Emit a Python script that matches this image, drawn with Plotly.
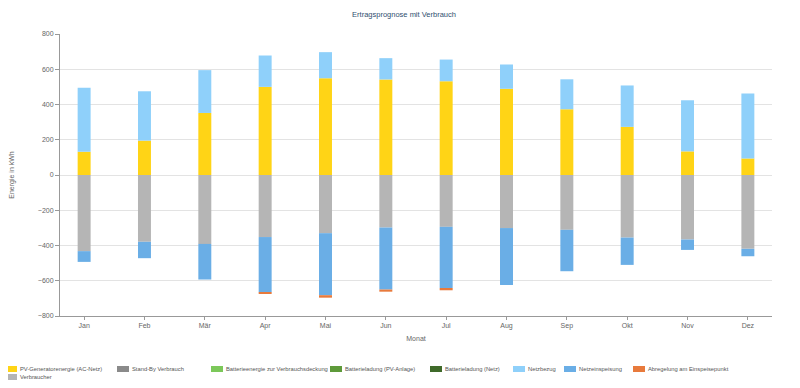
import plotly.graph_objects as go

months = ["Jan", "Feb", "Mär", "Apr", "Mai", "Jun", "Jul", "Aug", "Sep", "Okt", "Nov", "Dez"]

pv_generator = [132, 195, 352, 500, 549, 542, 532, 489, 373, 273, 134, 94]
netzbezug = [363, 280, 243, 178, 148, 121, 123, 138, 170, 235, 290, 368]
verbraucher = [-432, -379, -391, -352, -330, -298, -294, -301, -311, -355, -366, -419]
netzeinspeisung = [-61, -93, -202, -313, -352, -352, -347, -323, -235, -155, -59, -42]
abregelung = [0, 0, 0, -8, -14, -12, -13, 0, 0, 0, 0, 0]
standby = [0] * 12
batt_verbrauch = [0] * 12
batt_pv = [0] * 12
batt_netz = [0] * 12

y_ticks = [-800, -600, -400, -200, 0, 200, 400, 600, 800]

# The page body has an 8 px margin, so the figure is 8 px smaller than the window.
OFF = 8
W, H = 800 - OFF, 388 - OFF
L, R, T, B = 52, 28, 26, 72
PW, PH = W - L - R, H - T - B


def px_x(page_x):
    return (page_x - OFF - L) / PW


def px_y(page_y):
    return (H - B - (page_y - OFF)) / PH


# (name, values, color, legend swatch left px on page, legend row center px on page) in stacking order
series = [
    ("PV-Generatorenergie (AC-Netz)", pv_generator, "#FFD416", 5, 369),
    ("Verbraucher", verbraucher, "#B5B5B5", 5, 377),
    ("Netzeinspeisung", netzeinspeisung, "#6AAEE6", 564, 369),
    ("Abregelung am Einspeisepunkt", abregelung, "#E87A3C", 633, 369),
    ("Netzbezug", netzbezug, "#8FD0FA", 513, 369),
    ("Stand-By Verbrauch", standby, "#8A8A8A", 117, 369),
    ("Batterieenergie zur Verbrauchsdeckung", batt_verbrauch, "#7CC85A", 211, 369),
    ("Batterieladung (PV-Anlage)", batt_pv, "#5E9A3A", 330, 369),
    ("Batterieladung (Netz)", batt_netz, "#3F6A2A", 430, 369),
]

fig = go.Figure()
for name, vals, color, sx, sy in series:
    fig.add_trace(go.Bar(
        x=months, y=vals, name=name, showlegend=False,
        marker=dict(color=color, line=dict(width=0)),
        width=0.215,
    ))
    # legend entry: colour swatch + label
    fig.add_shape(type="rect", xref="paper", yref="paper",
                  x0=px_x(sx), x1=px_x(sx + 12), y0=px_y(sy - 3), y1=px_y(sy + 3),
                  fillcolor=color, line=dict(width=0), layer="above")
    fig.add_annotation(text=name, xref="paper", yref="paper",
                       x=px_x(sx + 14), y=px_y(sy), xanchor="left", yanchor="middle",
                       showarrow=False, borderpad=0,
                       font=dict(size=5.8, color="#555555", family="Liberation Sans, Arial"))

fig.update_layout(
    barmode="relative",
    width=W, height=H,
    margin=dict(l=L, r=R, t=T, b=B, autoexpand=False),
    paper_bgcolor="white", plot_bgcolor="white",
    font=dict(family="Liberation Sans, Arial, sans-serif", size=7, color="#666666"),
    title=dict(text="Ertragsprognose mit Verbrauch", x=0.5, xanchor="center",
               yref="container", y=0.99, yanchor="top", pad=dict(t=0),
               font=dict(size=7.5, color="#2F4F6F")),
    showlegend=False,
    xaxis=dict(
        title=dict(text="Monat", font=dict(size=7, color="#666666"), standoff=6),
        range=[-0.4, 11.4],
        showline=True, linecolor="#999999", linewidth=1,
        ticks="outside", ticklen=3, tickcolor="#999999",
        showgrid=False, tickfont=dict(size=7, color="#666666"),
    ),
    yaxis=dict(
        title=dict(text="Energie in kWh", font=dict(size=7, color="#666666"), standoff=24),
        range=[-800, 800], tickvals=y_ticks,
        showline=True, linecolor="#999999", linewidth=1,
        ticks="outside", ticklen=4, tickcolor="#999999",
        showgrid=True, gridcolor="#E3E3E3", gridwidth=1,
        zeroline=True, zerolinecolor="#E3E3E3", zerolinewidth=1,
        tickfont=dict(size=7, color="#666666"),
    ),
)

fig.write_html("out.html")
